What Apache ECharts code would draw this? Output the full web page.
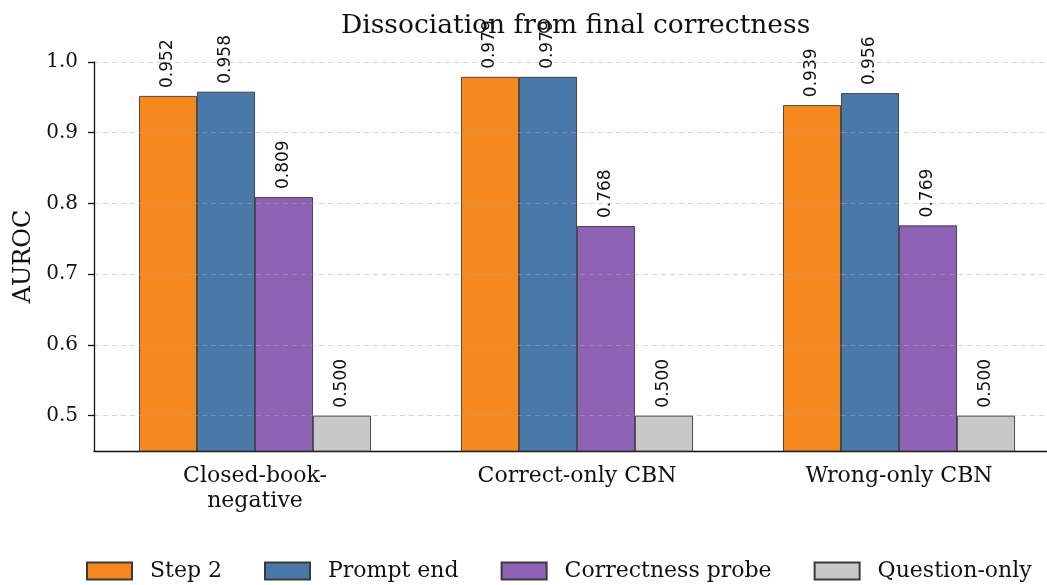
<!DOCTYPE html>
<html>
<head>
<meta charset="utf-8">
<script src="https://cdn.jsdelivr.net/npm/echarts@6/dist/echarts.min.js"></script>
<style>
  html, body { margin: 0; padding: 0; background: #fff; }
  #chart { width: 1047px; height: 585px; }
</style>
</head>
<body>
<div id="chart"></div>
<script>
// AUROC per probe, grouped by evaluation split
const categories = ['Closed-book-\nnegative', 'Correct-only CBN', 'Wrong-only CBN'];
const step2 = [0.952, 0.979, 0.939];
const promptEnd = [0.958, 0.979, 0.956];
const correctnessProbe = [0.809, 0.768, 0.769];
const questionOnly = [0.500, 0.500, 0.500];
const yTicks = [0.5, 0.6, 0.7, 0.8, 0.9, 1.0];

const serif = 'DejaVu Serif';
const sans = 'DejaVu Sans';

function barSeries(name, data, color) {
  return {
    name: name,
    type: 'bar',
    data: data,
    barWidth: 58,
    barGap: '0%',
    itemStyle: { color: color, borderColor: '#3a3a3a', borderWidth: 0.9 },
    label: {
      show: true,
      position: 'top',
      distance: 8,
      rotate: 90,
      align: 'left',
      verticalAlign: 'middle',
      fontFamily: sans,
      fontSize: 17,
      color: '#111',
      formatter: p => p.value.toFixed(3)
    }
  };
}

const chart = echarts.init(document.getElementById('chart'), null, { renderer: 'canvas' });
chart.setOption({
  backgroundColor: '#fff',
  animation: false,
  title: {
    text: 'Dissociation from final correctness',
    left: 341,
    top: 13,
    padding: 0,
    textStyle: { fontFamily: serif, fontSize: 26.5, fontWeight: 'normal', color: '#111' }
  },
  legend: {
    left: 86,
    top: 560,
    width: 961,
    padding: 0,
    icon: 'rect',
    itemWidth: 45,
    itemHeight: 17,
    itemGap: 42,
    textStyle: { fontFamily: serif, fontSize: 22, color: '#111', padding: [0, 0, 0, 13] }
  },
  // the plot area runs a little past the right edge of the canvas
  grid: { left: 94, width: 966, top: 62, bottom: 134, outerBoundsMode: 'none', containLabel: false },
  xAxis: {
    type: 'category',
    data: categories,
    boundaryGap: true,
    axisLine: { lineStyle: { color: '#111', width: 1.3 } },
    axisTick: { alignWithLabel: true, length: 6, lineStyle: { color: '#111', width: 1.3 } },
    axisLabel: { fontFamily: serif, fontSize: 22, color: '#111', margin: 13, lineHeight: 25 }
  },
  yAxis: {
    type: 'value',
    min: 0.45,
    max: 1.0,
    z: 5,
    name: 'AUROC',
    nameLocation: 'middle',
    nameRotate: 90,
    nameGap: 58,
    nameTextStyle: { fontFamily: serif, fontSize: 24, color: '#111' },
    axisLine: { show: true, lineStyle: { color: '#111', width: 1.3 } },
    axisTick: { show: true, length: 6, customValues: yTicks, lineStyle: { color: '#111', width: 1.3 } },
    axisLabel: {
      fontFamily: serif, fontSize: 20, color: '#111', margin: 16,
      customValues: yTicks,
      formatter: v => v.toFixed(1)
    },
    splitLine: { show: true, lineStyle: { color: 'rgba(170,170,170,0.55)', type: [5, 4], width: 0.9 } }
  },
  series: [
    barSeries('Step 2', step2, '#F5891F'),
    barSeries('Prompt end', promptEnd, '#4A78A8'),
    barSeries('Correctness probe', correctnessProbe, '#8E62B5'),
    barSeries('Question-only', questionOnly, '#C8C8C8')
  ]
});
</script>
</body>
</html>
